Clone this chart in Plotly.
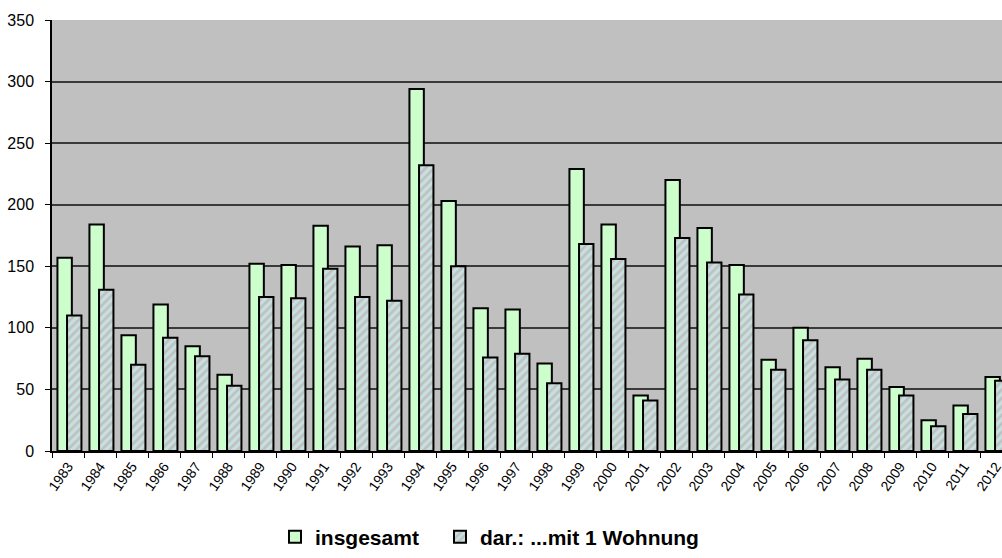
import plotly.graph_objects as go

years = [str(y) for y in range(1983, 2013)]
insgesamt = [157, 184, 94, 119, 85, 62, 152, 151, 183, 166, 167, 294, 203, 116, 115,
             71, 229, 184, 45, 220, 181, 151, 74, 100, 68, 75, 52, 25, 37, 60]
mit_1_wohnung = [110, 131, 70, 92, 77, 53, 125, 124, 148, 125, 122, 232, 150, 76, 79,
                 55, 168, 156, 41, 173, 153, 127, 66, 90, 58, 66, 45, 20, 30, 57]
y_ticks = [0, 50, 100, 150, 200, 250, 300, 350]

FONT = "Arial, Liberation Sans, sans-serif"
LEGEND_FONT = dict(family=FONT, size=21, color="black", weight="bold")

fig = go.Figure()
fig.add_trace(go.Bar(
    x=years, y=insgesamt, name="insgesamt", legend="legend",
    width=0.45, offset=-0.33,
    marker=dict(color="#ccffcc", line=dict(color="black", width=2)),
))
fig.add_trace(go.Bar(
    x=years, y=mit_1_wohnung, name="dar.: ...mit 1 Wohnung", legend="legend2",
    width=0.45, offset=-0.03,
    marker=dict(color="#c0c0c0", line=dict(color="black", width=2),
                pattern=dict(shape="/", bgcolor="#c0c0c0", fgcolor="#ccffff",
                             size=6, solidity=0.55)),
))

# plot area: x 52..1002, y 20..451 (pixels)
LEG_Y = -(537 - 451) / 431
fig.update_layout(
    width=1002, height=558,
    barmode="overlay",
    paper_bgcolor="white",
    plot_bgcolor="#c0c0c0",
    margin=dict(l=52, r=0, t=20, b=107, autoexpand=False),
    font=dict(family=FONT, color="black"),
    showlegend=True,
    legend=dict(orientation="h", x=(275 - 52) / 950, xanchor="left",
                y=LEG_Y, yanchor="middle",
                font=LEGEND_FONT, itemwidth=30, bgcolor="rgba(0,0,0,0)"),
    legend2=dict(orientation="h", x=(440 - 52) / 950, xanchor="left",
                 y=LEG_Y, yanchor="middle",
                 font=LEGEND_FONT, itemwidth=30, bgcolor="rgba(0,0,0,0)"),
    xaxis=dict(type="category", range=[-0.5, 29.1875], showgrid=False, automargin=False,
               tickson="boundaries", ticks="outside", ticklen=5, tickcolor="black",
               tickwidth=1, tickangle=-55,
               tickfont=dict(family=FONT, size=14, color="black"),
               showline=True, linecolor="black", linewidth=1.5, fixedrange=True),
    yaxis=dict(range=[0, 350], tickvals=y_ticks, showgrid=True, automargin=False,
               gridcolor="#3a3a3a", gridwidth=1.5,
               ticks="outside", ticklen=5, tickcolor="black", tickwidth=1,
               ticklabelstandoff=8,
               tickfont=dict(family=FONT, size=16, color="black"),
               showline=True, linecolor="black", linewidth=1.5, zeroline=False),
)

fig.write_html(
    "out.html",
    config={"displayModeBar": False},
    post_script="document.body.style.margin='0';document.body.style.overflow='hidden';",
)
